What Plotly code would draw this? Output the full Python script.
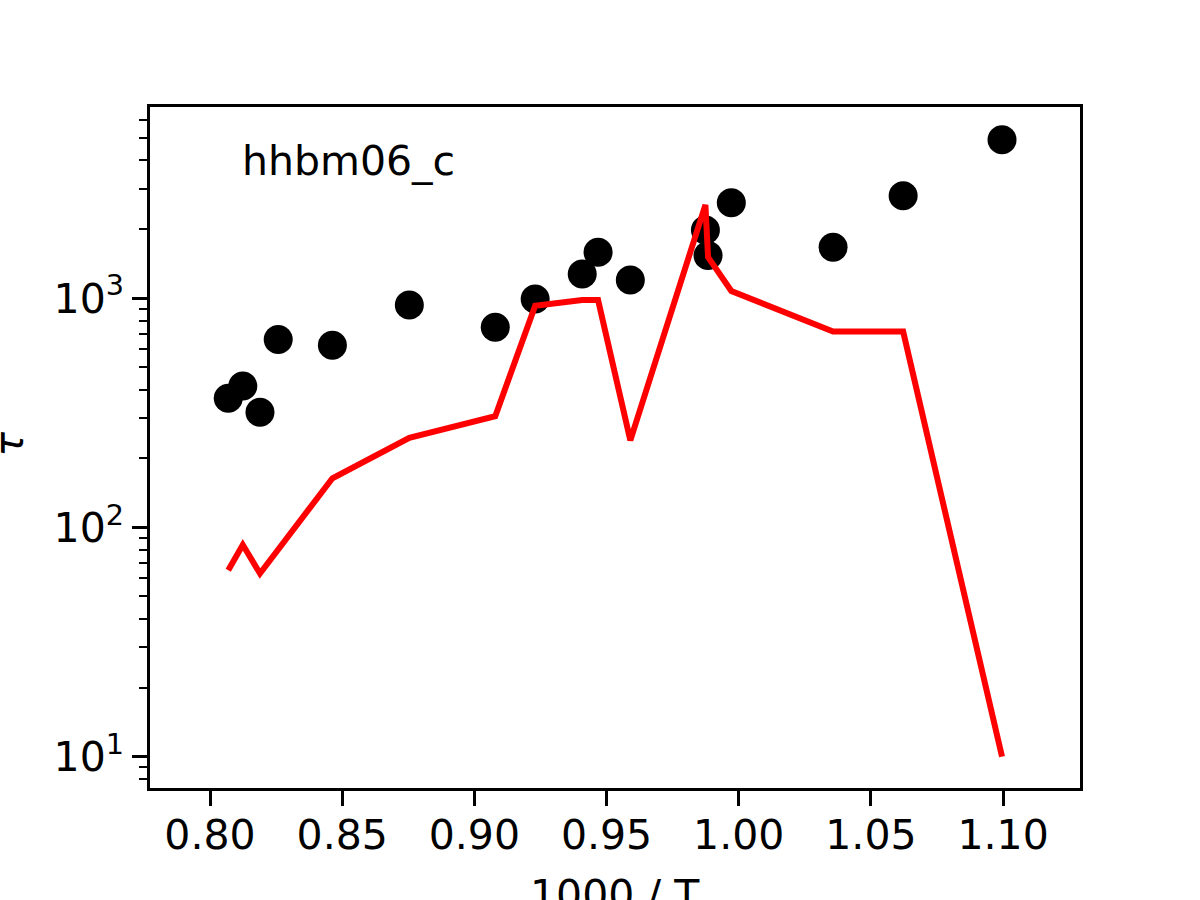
import plotly.graph_objects as go

# 1000/T for every measurement (model is evaluated at the same points)
inv_t = [0.8069, 0.8124, 0.8189, 0.8258, 0.8463, 0.8754, 0.9079, 0.9230, 0.9408,
         0.9468, 0.9590, 0.9874, 0.9884, 0.9972, 1.0357, 1.0622, 1.0996]

# measured tau
tau_obs = [366, 414, 318, 662, 624, 935, 747, 993, 1276,
           1588, 1202, 1986, 1538, 2611, 1671, 2806, 4922]

# model tau
tau_model = [65, 84, 63, 80, 164, 246, 306, 928, 983,
             983, 240, 2560, 1513, 1077, 716, 716, 10]

label = "hhbm06_c"
xlabel = "1000 / T"
ylabel = "<i>τ</i>"

FONT = "DejaVu Sans"
FS = 41

fig = go.Figure()

fig.add_trace(go.Scatter(x=inv_t, y=tau_obs, mode="markers",
                         marker=dict(color="black", size=29),
                         showlegend=False))
fig.add_trace(go.Scatter(x=inv_t, y=tau_model, mode="lines",
                         line=dict(color="red", width=6),
                         showlegend=False))

minor_vals = [m * 10 ** k for k in range(0, 4) for m in range(2, 10)]

fig.update_layout(
    width=1200, height=900,
    margin=dict(l=150, r=120, t=107, b=112),
    paper_bgcolor="white", plot_bgcolor="white",
    font=dict(family=FONT, size=FS, color="black"),
    xaxis=dict(
        range=[0.7773, 1.1291],
        tickvals=[0.80, 0.85, 0.90, 0.95, 1.00, 1.05, 1.10],
        ticktext=["0.80", "0.85", "0.90", "0.95", "1.00", "1.05", "1.10"],
        ticks="outside", ticklen=15, tickwidth=2.5, tickcolor="black",
        ticklabelstandoff=-6,
        showline=True, linecolor="black", linewidth=2.5, mirror=True,
        showgrid=False, zeroline=False, automargin=False,
    ),
    yaxis=dict(
        type="log",
        range=[0.863, 3.835],
        tickvals=[10, 100, 1000],
        ticktext=["10<sup>1</sup>", "10<sup>2</sup>", "10<sup>3</sup>"],
        ticks="outside", ticklen=15, tickwidth=2.5, tickcolor="black",
        ticklabelstandoff=0,
        minor=dict(tickvals=minor_vals, ticks="outside", ticklen=8,
                   tickwidth=2, tickcolor="black", showgrid=False),
        showline=True, linecolor="black", linewidth=2.5, mirror=True,
        showgrid=False, zeroline=False, automargin=False,
    ),
    annotations=[
        dict(text=label, xref="paper", yref="paper",
             x=0.0965, y=0.921, xanchor="left", yanchor="middle",
             showarrow=False, font=dict(size=FS)),
        # axis titles sit partly past the page edge, as in the original
        dict(text=xlabel, xref="paper", yref="paper",
             x=0.5, y=-0.119, xanchor="center", yanchor="top",
             showarrow=False, font=dict(size=FS)),
        dict(text=ylabel, xref="paper", yref="paper", textangle=-90,
             x=-0.1516, y=0.504, xanchor="center", yanchor="middle",
             showarrow=False, font=dict(size=FS)),
    ],
)

# the page body has an 8px default margin; drop it so the figure sits at 0,0
fig.write_html("out.html", config={"displayModeBar": False},
               post_script="document.body.style.margin='0';")
